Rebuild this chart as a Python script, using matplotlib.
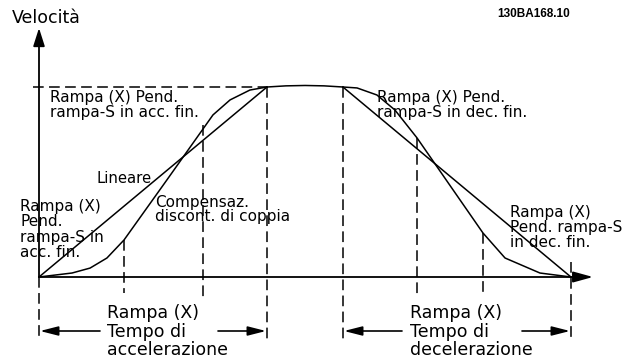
import matplotlib
matplotlib.use('Agg')
import matplotlib.pyplot as plt

# tempo normalizzato (rampa di accelerazione = 1) e velocita normalizzata
t_lin_acc = [0.0, 1.0]
v_lin_acc = [0.0, 1.0]
t_s_acc = [0.0, 0.145, 0.224, 0.298, 0.373, 0.561, 0.763, 0.838, 0.925, 1.0]
v_s_acc = [0.0, 0.021, 0.047, 0.100, 0.195, 0.511, 0.853, 0.932, 0.984, 1.0]
t_plateau = [1.0, 1.083, 1.167, 1.25, 1.333]
v_plateau = [1.0, 1.006, 1.008, 1.006, 1.0]
t_lin_dec = [1.333, 2.333]
v_lin_dec = [1.0, 0.0]
t_s_dec = [1.333, 1.395, 1.482, 1.561, 1.658, 1.947, 2.044, 2.197, 2.333]
v_s_dec = [1.0, 0.995, 0.958, 0.879, 0.732, 0.232, 0.100, 0.021, 0.0]

# linee tratteggiate verticali: tempo, inizio (in alto), fine (in basso)
t_marks = [0.0, 0.373, 0.719, 1.0, 1.333, 1.658, 1.947, 2.333]
v_mark_top = [0.0, 0.195, 0.80, 1.0, 1.0, 0.732, 0.232, 0.079]
v_mark_bot = [-0.325, -0.084, -0.105, -0.325, -0.325, -0.105, -0.084, -0.325]

W, H = 634, 358
X0, Y0, SX, SY = 39, 277, 228, 190


def pos(px, py):
    return (px - X0) / SX, (Y0 - py) / SY


fig = plt.figure(figsize=(W / 100, H / 100), dpi=100)
ax = fig.add_axes([0, 0, 1, 1])
ax.set_xlim(-X0 / SX, (W - X0) / SX)
ax.set_ylim((Y0 - H) / SY, Y0 / SY)
ax.axis('off')

k = 'black'
lw = 1.1
ax.plot(t_lin_acc, v_lin_acc, color=k, lw=lw)
ax.plot(t_s_acc, v_s_acc, color=k, lw=lw)
ax.plot(t_plateau, v_plateau, color=k, lw=lw)
ax.plot(t_lin_dec, v_lin_dec, color=k, lw=lw)
ax.plot(t_s_dec, v_s_dec, color=k, lw=lw)

dash = (7, 3.5)
for t, a, b in zip(t_marks, v_mark_top, v_mark_bot):
    ax.plot([t, t], [a, b], color=k, lw=1.1, dashes=dash)
ax.plot([pos(33, 0)[0], 1.0], [1.0, 1.0], color=k, lw=1.1, dashes=dash)

# assi con frecce
ax.annotate('', xy=pos(39, 28), xytext=pos(39, 277),
            arrowprops=dict(arrowstyle='-|>,head_length=1.1,head_width=0.35',
                            color=k, lw=1.3, shrinkA=0, shrinkB=0, mutation_scale=10))
ax.annotate('', xy=pos(593, 277), xytext=pos(39, 277),
            arrowprops=dict(arrowstyle='-|>,head_length=1.2,head_width=0.33',
                            color=k, lw=1.3, shrinkA=0, shrinkB=0, mutation_scale=10))

# frecce dei tempi
ya = pos(0, 331)[1]
arr = dict(arrowstyle='-|>,head_length=1.1,head_width=0.28', color=k, lw=1.2,
           shrinkA=0, shrinkB=0, mutation_scale=10)
ax.annotate('', xy=(pos(40, 0)[0], ya), xytext=(pos(100, 0)[0], ya), arrowprops=arr)
ax.annotate('', xy=(pos(266, 0)[0], ya), xytext=(pos(218, 0)[0], ya), arrowprops=arr)
ax.annotate('', xy=(pos(344, 0)[0], ya), xytext=(pos(402, 0)[0], ya), arrowprops=arr)
ax.annotate('', xy=(pos(570, 0)[0], ya), xytext=(pos(522, 0)[0], ya), arrowprops=arr)

fn = 'DejaVu Sans'


def txt(px, py, s, size=11, **kw):
    ax.text(*pos(px, py), s, fontsize=size, family=fn, ha='left', va='baseline', **kw)


txt(12, 23, 'Velocità', 12.5)
ax.text(*pos(497, 17), '130BA168.10', fontsize=8.5, family='Liberation Sans',
        fontweight='bold', ha='left', va='baseline')

txt(50, 102, 'Rampa (X) Pend.')
txt(50, 117, 'rampa-S in acc. fin.')
txt(377, 102, 'Rampa (X) Pend.')
txt(377, 117, 'rampa-S in dec. fin.')
txt(97, 183, 'Lineare', 10.7)
txt(155, 207, 'Compensaz.')
txt(155, 221, 'discont. di coppia')

for i, s in enumerate(['Rampa (X)', 'Pend.', 'rampa-S in', 'acc. fin.']):
    txt(20, 211 + 15.3 * i, s)
for i, s in enumerate(['Rampa (X)', 'Pend. rampa-S', 'in dec. fin.']):
    txt(510, 217 + 15 * i, s)

for x, word in [(107, 'accelerazione'), (410, 'decelerazione')]:
    txt(x, 318, 'Rampa (X)', 12.5)
    txt(x, 337, 'Tempo di', 12.5)
    txt(x, 355, word, 12.5)

fig.savefig('out.png', dpi=100)
